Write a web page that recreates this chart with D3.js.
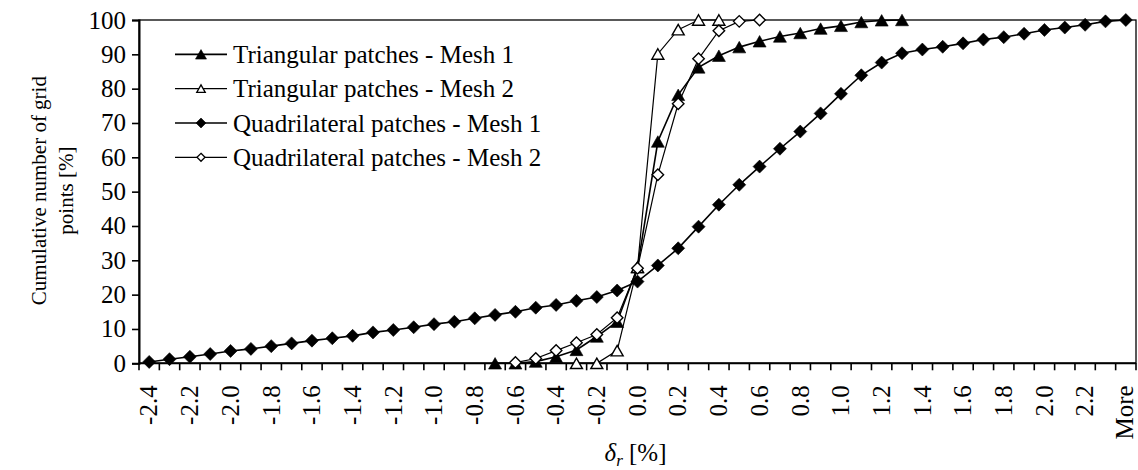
<!DOCTYPE html>
<html>
<head>
<meta charset="utf-8">
<script src="https://cdn.jsdelivr.net/npm/d3@7"></script>
<style>
  html, body { margin: 0; padding: 0; background: #fff; }
  svg { display: block; }
  svg text { font-family: "Liberation Serif", "Times New Roman", Tinos, serif; fill: #000; }
</style>
</head>
<body>
<svg id="chart" width="1138" height="470"></svg>
<script>
// Bin labels along the x axis (relative deviation, %)
const categories = [
  "-2.4","-2.3","-2.2","-2.1","-2.0","-1.9","-1.8","-1.7","-1.6","-1.5",
  "-1.4","-1.3","-1.2","-1.1","-1.0","-0.9","-0.8","-0.7","-0.6","-0.5",
  "-0.4","-0.3","-0.2","-0.1","0.0","0.1","0.2","0.3","0.4","0.5",
  "0.6","0.7","0.8","0.9","1.0","1.1","1.2","1.3","1.4","1.5",
  "1.6","1.7","1.8","1.9","2.0","2.1","2.2","2.3","More"
];
// Every other bin carries a label
const labelledCategories = [
  "-2.4","-2.2","-2.0","-1.8","-1.6","-1.4","-1.2","-1.0","-0.8","-0.6",
  "-0.4","-0.2","0.0","0.2","0.4","0.6","0.8","1.0","1.2","1.4",
  "1.6","1.8","2.0","2.2","More"
];
const yTicks = [0, 10, 20, 30, 40, 50, 60, 70, 80, 90, 100];

// Cumulative share of grid points [%], each series starting at its first bin
const triMesh1Start = "-0.7";
const triMesh1 = [0.0, 0.0, 0.5, 1.9, 3.9, 7.8, 12.1, 28.0, 64.6, 78.2, 86.2, 89.6,
  92.1, 93.8, 95.2, 96.2, 97.5, 98.3, 99.4, 99.9, 100];

const triMesh2Start = "-0.3";
const triMesh2 = [0.0, 0.0, 3.7, 28.0, 90.1, 97.2, 100, 100];

const quadMesh1Start = "-2.4";
const quadMesh1 = [0.4, 1.2, 1.9, 2.7, 3.6, 4.2, 5.0, 5.8, 6.6, 7.3, 8.0, 9.0, 9.7,
  10.5, 11.4, 12.1, 13.1, 14.1, 15.0, 16.2, 17.0, 18.2, 19.3, 21.2, 23.8, 28.5,
  33.5, 39.8, 46.2, 52.0, 57.3, 62.5, 67.5, 72.8, 78.5, 83.9, 87.6, 90.3, 91.4,
  92.2, 93.2, 94.3, 95.0, 96.0, 97.1, 97.8, 98.6, 99.6, 100];

const quadMesh2Start = "-0.6";
const quadMesh2 = [0.2, 1.4, 3.7, 6.0, 8.4, 13.3, 27.7, 54.9, 75.6, 88.7, 96.9, 99.6, 100];

const seriesNames = [
  "Triangular patches - Mesh 1",
  "Triangular patches - Mesh 2",
  "Quadrilateral patches - Mesh 1",
  "Quadrilateral patches - Mesh 2"
];

const series = [
  { name: seriesNames[0], start: triMesh1Start, values: triMesh1, shape: "triangle", filled: true, width: 1.6 },
  { name: seriesNames[1], start: triMesh2Start, values: triMesh2, shape: "triangle", filled: false, width: 1.2 },
  { name: seriesNames[2], start: quadMesh1Start, values: quadMesh1, shape: "diamond", filled: true, width: 1.6 },
  { name: seriesNames[3], start: quadMesh2Start, values: quadMesh2, shape: "diamond", filled: false, width: 1.2 }
];

const FONT = '"Liberation Serif", "Times New Roman", Tinos, serif';
const svg = d3.select("#chart");
const plot = { left: 139, right: 1136, top: 20, bottom: 363.3 };

const x = d3.scaleBand().domain(categories).range([plot.left, plot.right]).paddingInner(0).paddingOuter(0);
const y = d3.scaleLinear().domain([0, 100]).range([plot.bottom, plot.top]);
const cx = c => x(c) + x.bandwidth() / 2;

// Plot frame
svg.append("rect")
  .attr("x", plot.left).attr("y", plot.top)
  .attr("width", plot.right - plot.left).attr("height", plot.bottom - plot.top)
  .attr("fill", "none").attr("stroke", "#000").attr("stroke-width", 1.3);

// Y axis
const yAxis = d3.axisLeft(y).tickValues(yTicks).tickSize(7).tickPadding(6).tickFormat(d3.format("d"));
const gy = svg.append("g").attr("transform", `translate(${plot.left},0)`).call(yAxis)
  .attr("font-family", FONT);
gy.select(".domain").attr("stroke", "#000").attr("stroke-width", 2);
gy.selectAll(".tick line").attr("stroke", "#000").attr("stroke-width", 1.6);
gy.selectAll(".tick text").attr("font-size", 25).style("font-family", FONT);

// X axis: tick marks sit on the bin boundaries, labels on the bin centres
const gx = svg.append("g").attr("transform", `translate(0,${plot.bottom})`);
gx.append("line").attr("x1", plot.left).attr("x2", plot.right)
  .attr("y1", 0).attr("y2", 0).attr("stroke", "#000").attr("stroke-width", 2);
const boundaries = categories.map(c => x(c)).concat([plot.right]);
gx.selectAll("line.tick-mark").data(boundaries).join("line")
  .attr("class", "tick-mark")
  .attr("x1", d => d).attr("x2", d => d)
  .attr("y1", 0).attr("y2", 7)
  .attr("stroke", "#000").attr("stroke-width", 1.6);

const xAxis = d3.axisBottom(x).tickValues(labelledCategories).tickSize(0);
const gxl = svg.append("g").attr("transform", `translate(0,${plot.bottom})`).call(xAxis)
  .attr("font-family", FONT);
gxl.select(".domain").remove();
gxl.selectAll(".tick text")
  .attr("font-size", 25).style("font-family", FONT)
  .attr("text-anchor", "end")
  .attr("transform", d => `translate(${d === "More" ? -1.5 : 0},22) rotate(-90)`)
  .attr("x", 0).attr("y", 0).attr("dy", "0.33em");

// Axis titles
svg.append("text")
  .attr("x", (plot.left + plot.right) / 2 - 2).attr("y", 461)
  .attr("text-anchor", "middle").attr("font-size", 25).style("font-family", FONT)
  .call(t => {
    t.append("tspan").attr("font-style", "italic").text("δ");
    t.append("tspan").attr("font-style", "italic").attr("font-size", 17).attr("dy", 5).text("r");
    t.append("tspan").attr("dy", -5).text(" [%]");
  });

const yTitle = svg.append("text")
  .attr("transform", `translate(46,${(plot.top + plot.bottom) / 2 - 1}) rotate(-90)`)
  .attr("text-anchor", "middle").attr("font-size", 21).style("font-family", FONT);
yTitle.append("tspan").attr("x", 0).attr("dy", 0).text("Cumulative number of grid");
yTitle.append("tspan").attr("x", 0).attr("dy", 27).text("points [%]");

// Marker outlines: square-cornered diamond and upward triangle, centred on the point
function markerPath(shape, w, h) {
  if (shape === "diamond") {
    const p = d3.path();
    p.moveTo(0, -h / 2); p.lineTo(w / 2, 0); p.lineTo(0, h / 2); p.lineTo(-w / 2, 0); p.closePath();
    return p.toString();
  }
  const p = d3.path();
  p.moveTo(0, -h / 2); p.lineTo(w / 2, h / 2); p.lineTo(-w / 2, h / 2); p.closePath();
  return p.toString();
}

function markerDims(s, legend) {
  if (s.shape === "triangle") {
    if (legend) return s.filled ? [11, 9.5] : [8.5, 7.5];
    return s.filled ? [13, 11.5] : [12, 10.5];
  }
  if (legend) return s.filled ? [10, 10] : [8, 8];
  return s.filled ? [13, 13] : [11.5, 11.5];
}

const line = d3.line().x(d => cx(d.cat)).y(d => y(d.v));

series.forEach(s => {
  const i0 = categories.indexOf(s.start);
  const pts = s.values.map((v, i) => ({ cat: categories[i0 + i], v }));
  const g = svg.append("g");
  g.append("path").datum(pts).attr("d", line)
    .attr("fill", "none").attr("stroke", "#000").attr("stroke-width", s.width);
  const [w, h] = markerDims(s, false);
  g.selectAll("path.mk").data(pts).join("path")
    .attr("class", "mk")
    .attr("d", markerPath(s.shape, w, h))
    .attr("transform", d => `translate(${cx(d.cat)},${y(d.v)})`)
    .attr("fill", s.filled ? "#000" : "#fff")
    .attr("stroke", "#000")
    .attr("stroke-width", s.filled ? 0.6 : 1.4);
});

// Legend
const legendRowsY = [90, 80, 70, 60].map(v => y(v));
const legend = svg.append("g");
series.forEach((s, i) => {
  const ly = legendRowsY[i];
  const g = legend.append("g");
  g.append("line").attr("x1", 175).attr("x2", 227).attr("y1", ly).attr("y2", ly)
    .attr("stroke", "#000").attr("stroke-width", s.width);
  const [w, h] = markerDims(s, true);
  g.append("path")
    .attr("d", markerPath(s.shape, w, h))
    .attr("transform", `translate(201,${ly})`)
    .attr("fill", s.filled ? "#000" : "#fff")
    .attr("stroke", "#000").attr("stroke-width", s.filled ? 0.6 : 1.3);
  g.append("text").attr("x", 233).attr("y", ly).attr("dy", "0.35em")
    .attr("font-size", 25).style("font-family", FONT).text(s.name);
});
</script>
</body>
</html>
